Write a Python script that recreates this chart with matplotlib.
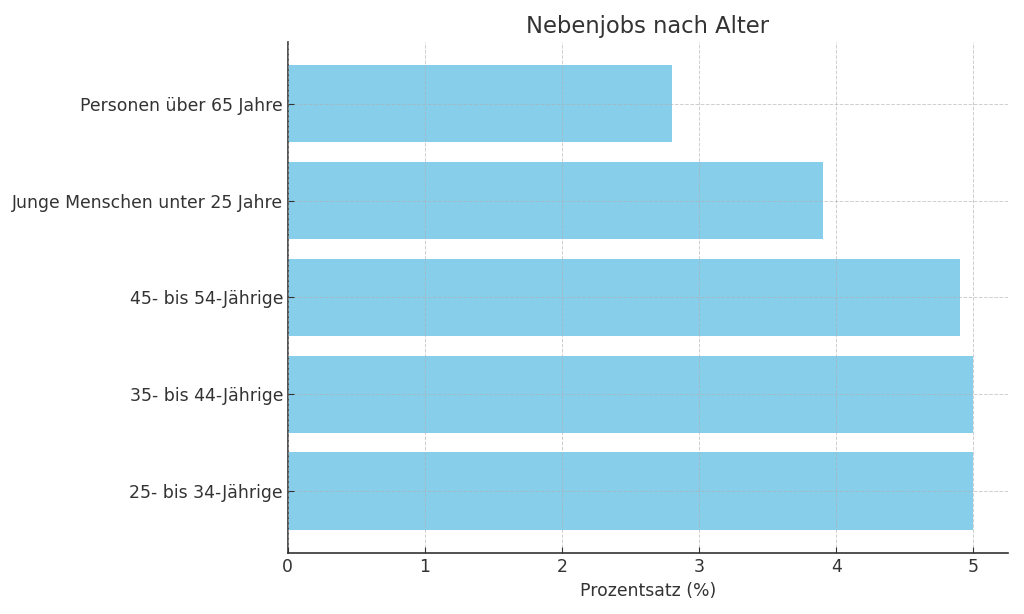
import matplotlib.pyplot as plt

# Data
categories = ["25- bis 34-Jährige", "35- bis 44-Jährige", "45- bis 54-Jährige",
              "Junge Menschen unter 25 Jahre", "Personen über 65 Jahre"]
values = [5.0, 5.0, 4.9, 3.9, 2.8]

text_color = "#333333"
plt.rcParams['font.family'] = ['DejaVu Sans']

fig, ax = plt.subplots(figsize=(10.24, 6.14), dpi=100)
fig.subplots_adjust(left=0.281, right=0.984, top=0.932, bottom=0.099)

ax.barh(categories, values, color="skyblue", height=0.8, zorder=1)

ax.set_title("Nebenjobs nach Alter", fontsize=16.3, color=text_color)
ax.set_xlabel("Prozentsatz (%)", fontsize=12.4, color=text_color)

ax.grid(True, linestyle="--", linewidth=0.7, color="#b0b0b0", alpha=0.6, zorder=2)
ax.set_axisbelow(False)

for side in ["top", "right"]:
    ax.spines[side].set_visible(False)
for side in ["left", "bottom"]:
    ax.spines[side].set_color(text_color)
    ax.spines[side].set_linewidth(1.2)

ax.tick_params(axis="both", direction="in", labelsize=12.4, colors=text_color,
               length=4)

fig.savefig("out.png", dpi=100)
